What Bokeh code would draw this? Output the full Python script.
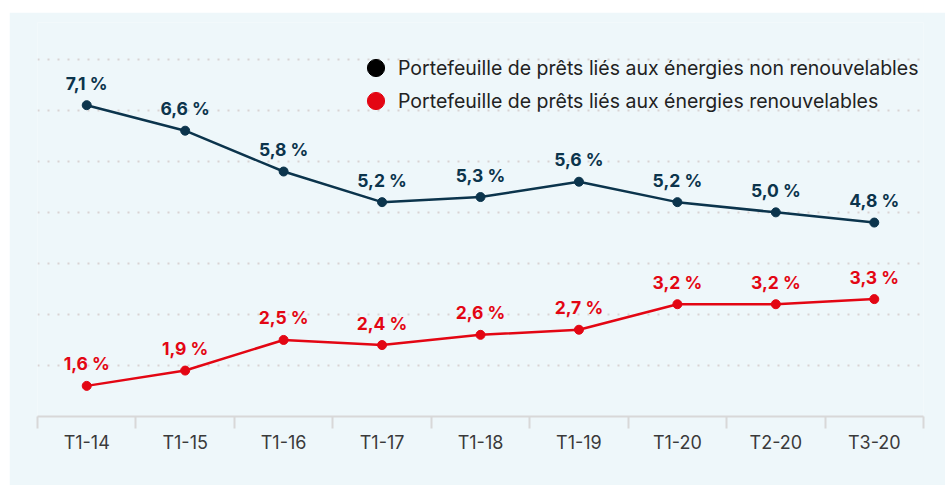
from bokeh.plotting import figure
from bokeh.models import (ColumnDataSource, FixedTicker, Range1d, Legend, LegendItem, Spacer)
from bokeh.layouts import column, row
from bokeh.embed import file_html
from bokeh.resources import INLINE
from bokeh.core.properties import value

categories = ["T1-14", "T1-15", "T1-16", "T1-17", "T1-18", "T1-19", "T1-20", "T2-20", "T3-20"]
non_renouvelables = [7.1, 6.6, 5.8, 5.2, 5.3, 5.6, 5.2, 5.0, 4.8]
renouvelables = [1.6, 1.9, 2.5, 2.4, 2.6, 2.7, 3.2, 3.2, 3.3]
series_names = ["Portefeuille de prêts liés aux énergies non renouvelables",
                "Portefeuille de prêts liés aux énergies renouvelables"]
grid_values = [2, 3, 4, 5, 6, 7, 8]

NAVY = "#0b344c"
RED = "#e30613"
BG = "#eef7fa"
FONT = "Inter"

xs = [i + 0.5 for i in range(len(categories))]

def fmt(v):
    return f"{v:.1f}".replace(".", ",") + " %"

p = figure(width=936, height=473, output_backend="svg", toolbar_location=None,
           x_range=Range1d(0, len(categories)), y_range=Range1d(1, 8.72),
           min_border_left=28, min_border_right=22, min_border_top=10, min_border_bottom=69)
p.background_fill_color = BG
p.border_fill_color = BG
p.outline_line_color = None

p.xgrid.visible = False
p.yaxis.visible = False
p.ygrid.ticker = FixedTicker(ticks=grid_values)
p.ygrid.grid_line_color = "#d9d3d3"
p.ygrid.grid_line_width = 2
p.ygrid.grid_line_dash = "2 8"

ax = p.xaxis[0]
ax.ticker = FixedTicker(ticks=xs, minor_ticks=list(range(len(categories) + 1)))
ax.major_label_overrides = {x: c for x, c in zip(xs, categories)}
ax.major_tick_line_color = None
ax.major_tick_out = 12
ax.major_tick_in = 0
ax.minor_tick_out = 12
ax.minor_tick_in = 0
ax.minor_tick_line_color = "#d8d8d8"
ax.minor_tick_line_width = 2
ax.axis_line_color = "#d8d8d8"
ax.axis_line_width = 2
ax.major_label_standoff = 3
ax.major_label_text_font = FONT
ax.major_label_text_font_size = "18px"
ax.major_label_text_color = "#3a3a3a"

for vals, color in [(non_renouvelables, NAVY), (renouvelables, RED)]:
    src = ColumnDataSource(dict(x=xs, y=vals, label=[fmt(v) for v in vals]))
    p.line("x", "y", source=src, line_color=color, line_width=2.5)
    p.scatter("x", "y", source=src, size=9, fill_color=color, line_color=color)
    p.text("x", "y", text="label", source=src, text_color=color, text_font=value(FONT),
           text_font_style="bold", text_font_size="17.5px", text_align="center",
           text_baseline="alphabetic", y_offset=-22)

leg_src = ColumnDataSource(dict(x=[float("nan")], y=[float("nan")]))
r1 = p.scatter("x", "y", source=leg_src, size=17, fill_color="#000000", line_color="#000000")
r2 = p.scatter("x", "y", source=leg_src, size=17, fill_color=RED, line_color=RED)

for name, rend, loc in [(series_names[0], r1, (317, 327)), (series_names[1], r2, (317, 294))]:
    lg = Legend(items=[LegendItem(label=name, renderers=[rend])], location=loc)
    lg.background_fill_alpha = 0
    lg.border_line_color = None
    lg.label_text_font = FONT
    lg.label_text_font_size = "19.5px"
    lg.label_text_color = "#222222"
    lg.glyph_width = 43
    lg.glyph_height = 43
    lg.label_height = 43
    lg.label_standoff = 1
    lg.spacing = 0
    lg.padding = 0
    lg.margin = 0
    p.add_layout(lg)

layout = row(Spacer(width=9, height=485), column(Spacer(height=12, width=936), p, spacing=0), spacing=0)
open("out.html", "w").write(file_html(layout, INLINE))
